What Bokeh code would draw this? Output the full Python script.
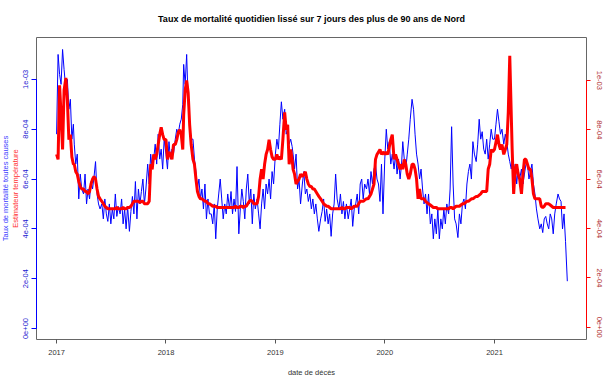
import pandas as pd
from bokeh.plotting import figure
from bokeh.models import Range1d, LinearAxis, FixedTicker, DatetimeTickFormatter, Title
from bokeh.embed import file_html
from bokeh.resources import INLINE

# ---------------- data (values in units of 1e-4) ----------------
# six readings per month (days 1, 6, 11, 16, 21, 26), Jan 2017 .. Aug 2021
taux_2017 = [7.8, 11.0, 10.2, 9.8, 11.2, 10.4,  9.6, 10.0, 8.8, 9.2, 7.6, 8.2,
             7.4, 6.6, 7.0, 5.2, 6.2, 5.6,  5.4, 6.2, 5.0, 5.6, 5.2, 5.9,
             5.6, 6.1, 6.7, 5.4, 5.0, 4.8,  5.0, 4.4, 5.2, 4.6, 4.3, 5.0,
             4.2, 4.8, 4.4, 5.4, 4.5, 4.9,  4.6, 5.2, 4.2, 4.8, 4.0, 4.9,
             3.9, 4.7, 5.3, 4.6, 5.9, 4.4,  5.6, 5.0, 5.5, 6.0, 5.0, 5.6,
             6.6, 5.8, 7.0, 6.4, 6.8, 7.4,  6.6, 7.8, 6.8, 7.2, 6.4, 7.6]
taux_2018 = [7.0, 6.4, 7.5, 6.8, 7.2, 7.0,  7.6, 8.0, 7.8, 8.2, 8.4, 9.0,
             10.6, 9.8, 11.0, 9.1, 8.2, 7.6,  7.6, 6.8, 6.3, 5.6, 6.0, 5.2,
             5.6, 4.8, 5.8, 4.4, 5.2, 4.6,  4.6, 4.2, 5.0, 3.6, 4.8, 5.4,
             6.0, 5.2, 4.4, 5.0, 4.6, 5.4,  4.8, 5.5, 4.6, 5.2, 4.7, 6.5,
             3.8, 4.8, 5.6, 5.1, 4.4, 5.6,  6.2, 5.0, 5.6, 4.2, 5.4, 4.8,
             5.2, 4.6, 4.0, 5.0, 5.6, 4.8,  5.8, 5.4, 6.0, 5.2, 6.3, 5.8]
taux_2019 = [7.0, 7.6, 7.2, 8.2, 9.1, 8.4,  8.8, 7.8, 8.0, 7.4, 7.6, 7.3,
             7.0, 6.4, 7.0, 5.6, 6.0, 5.0,  5.8, 6.3, 5.4, 5.6, 5.1, 5.4,
             4.8, 5.2, 4.6, 5.0, 4.4, 3.9,  4.4, 4.7, 5.2, 4.3, 4.8, 4.2,
             4.6, 3.7, 4.6, 5.0, 6.2, 5.2,  4.8, 5.4, 4.6, 5.1, 4.4, 5.0,
             4.4, 4.8, 5.2, 4.1, 4.8, 5.0,  5.4, 4.6, 5.8, 6.0, 5.2, 5.8,
             5.6, 6.0, 5.4, 6.3, 5.8, 6.4,  6.6, 6.0, 5.8, 5.1, 6.6, 4.6]
taux_2020 = [6.8, 8.0, 7.2, 7.5, 6.6, 7.0,  6.4, 7.0, 6.2, 6.8, 6.0, 6.6,
             7.5, 6.8, 6.4, 7.0, 7.6, 8.4,  9.2, 8.8, 7.8, 7.0, 6.6, 6.0,
             6.4, 5.6, 5.0, 5.4, 4.6, 5.4,  4.2, 4.6, 3.6, 4.4, 3.8, 4.8,
             3.6, 4.4, 4.0, 4.8, 4.2, 5.0,  4.6, 5.6, 8.1, 5.8, 4.4, 4.2,
             3.65, 4.6, 4.2, 5.0, 5.2, 4.8,  5.8, 6.3, 6.6, 6.0, 7.5, 7.0,
             6.7, 7.4, 8.4, 7.6, 7.9, 7.2,  7.0, 7.6, 6.8, 7.4, 8.0, 7.6]
taux_2021 = [7.6, 8.2, 8.8, 8.3, 7.8, 8.0,  7.4, 7.8, 7.5, 7.0, 6.7, 6.4,
             6.8, 6.0, 6.6, 5.8, 6.4, 6.0,  6.4, 5.8, 6.2, 6.6, 6.6, 6.0,
             6.3, 6.6, 5.8, 5.4, 4.8, 4.4,  4.0, 4.2, 3.85, 4.4, 4.5, 4.2,
             4.0, 4.6, 4.4, 3.8, 4.6, 5.0,  5.4, 5.2, 5.1, 4.0, 4.6, 3.5]
taux_last = 1.9  # 2021-09-01

temp_2017 = [7.0, 6.8, 9.8, 8.6, 7.2, 9.6,  10.1, 9.2, 7.6, 7.8, 6.9, 6.6,
             6.6, 6.3, 6.2, 5.9, 5.7, 5.6,  5.6, 5.5, 5.5, 5.4, 5.5, 5.8,
             6.0, 6.1, 6.0, 5.6, 5.3, 5.2,  5.1, 5.0, 4.9, 4.85, 4.8, 4.8,
             4.8, 4.8, 4.8, 4.8, 4.85, 4.8,  4.8, 4.8, 4.85, 4.8, 4.8, 4.85,
             4.85, 4.9, 5.0, 5.1, 5.1, 5.1,  5.1, 5.05, 5.1, 5.1, 5.0, 5.0,
             5.0, 5.1, 6.6, 6.4, 7.0, 6.8,  7.0, 7.4, 7.8, 8.1, 7.8, 7.6]
temp_2018 = [7.6, 6.8, 7.1, 7.0, 6.8, 7.4,  7.4, 7.6, 7.9, 8.0, 7.8, 7.2,
             8.6, 9.6, 10.0, 9.5, 8.2, 7.4,  6.8, 6.6, 6.0, 5.5, 5.3, 5.2,
             5.2, 5.15, 5.1, 5.1, 5.0, 5.0,  4.95, 4.9, 4.9, 4.9, 4.85, 4.85,
             4.85, 4.85, 4.85, 4.85, 4.85, 4.85,  4.85, 4.85, 4.85, 4.85, 4.9, 4.85,
             4.85, 4.9, 4.9, 4.85, 4.9, 4.9,  5.0, 5.1, 5.15, 5.1, 5.0, 5.0,
             5.0, 5.3, 6.0, 6.4, 6.0, 6.6,  7.0, 7.2, 7.6, 7.2, 6.9, 6.8]
temp_2019 = [6.8, 7.0, 6.8, 6.9, 6.8, 7.6,  8.7, 8.0, 8.2, 6.6, 7.2, 6.8,
             6.4, 6.2, 5.8, 5.9, 6.0, 6.2,  6.1, 6.2, 6.3, 6.0, 5.8, 5.7,
             5.7, 5.6, 5.6, 5.5, 5.4, 5.3,  5.2, 5.1, 5.0, 4.95, 4.9, 4.9,
             4.85, 4.8, 4.8, 4.8, 4.8, 4.8,  4.8, 4.8, 4.85, 4.8, 4.8, 4.85,
             4.85, 4.85, 4.8, 4.85, 4.9, 4.9,  4.9, 5.0, 5.1, 5.1, 5.1, 5.15,
             5.2, 5.2, 5.3, 5.4, 5.6, 5.8,  6.8, 7.0, 7.1, 7.2, 7.0, 7.1]
temp_2020 = [7.0, 7.1, 7.0, 7.3, 7.6, 7.8,  6.8, 7.0, 6.8, 6.6, 6.4, 6.6,
             6.4, 6.8, 6.6, 6.2, 6.0, 6.2,  6.6, 6.6, 6.4, 6.0, 5.2, 5.6,
             5.2, 5.2, 5.2, 5.1, 5.05, 5.0,  4.95, 4.9, 4.85, 4.85, 4.85, 4.8,
             4.8, 4.8, 4.8, 4.8, 4.8, 4.8,  4.8, 4.85, 4.85, 4.8, 4.85, 4.9,
             4.9, 4.9, 4.95, 5.0, 5.0, 5.05,  5.1, 5.1, 5.15, 5.2, 5.2, 5.25,
             5.3, 5.3, 5.35, 5.4, 5.5, 5.5,  5.5, 5.5, 6.4, 6.6, 7.2, 7.1]
temp_2021 = [7.2, 7.5, 7.8, 7.4, 7.2, 7.4,  7.0, 7.2, 7.4, 8.7, 11.0, 8.6,
             7.2, 5.4, 6.4, 6.6, 6.2, 6.0,  5.4, 6.2, 6.8, 6.8, 6.6, 6.4,
             6.4, 6.0, 5.4, 5.2, 5.2, 5.2,  5.2, 4.9, 4.85, 4.9, 5.0, 5.0,
             5.0, 4.95, 4.9, 4.85, 4.85, 4.85,  4.85, 4.85, 4.85, 4.85, 4.85, 4.85]

year_ticks = ["2017-01-01", "2018-01-01", "2019-01-01", "2020-01-01", "2021-01-01"]
y_ticks = [0, 2, 4, 6, 8, 10]
y_tick_labels = ["0e+00", "2e-04", "4e-04", "6e-04", "8e-04", "1e-03"]

# ---------------- build series ----------------
months = pd.date_range("2017-01-01", "2021-08-01", freq="MS")
day_offsets = [0, 5, 10, 15, 20, 25]
grid_dates = [m + pd.Timedelta(days=o) for m in months for o in day_offsets]

taux = taux_2017 + taux_2018 + taux_2019 + taux_2020 + taux_2021 + [taux_last]
taux_dates = grid_dates + [pd.Timestamp("2021-09-01")]
temp = temp_2017 + temp_2018 + temp_2019 + temp_2020 + temp_2021
temp_dates = grid_dates
assert len(taux) == len(taux_dates) and len(temp) == len(temp_dates)

FONT = "Liberation Sans"

p = figure(width=605, height=384, x_axis_type="datetime",
           output_backend="svg", toolbar_location=None,
           x_range=Range1d(pd.Timestamp("2016-10-26"), pd.Timestamp("2021-11-04")),
           y_range=Range1d(-0.44, 11.68),
           min_border_left=36, min_border_right=19, min_border_top=36, min_border_bottom=45)
p.extra_y_ranges = {"temp": Range1d(-0.497, 11.736)}
p.grid.visible = False
p.background_fill_color = "white"
p.border_fill_color = "white"
p.outline_line_color = "#666666"
p.outline_line_width = 1

# title
p.title.text = "Taux de mortalité quotidien lissé sur 7 jours des plus de 90 ans de Nord"
p.title.align = "center"
p.title.vertical_align = "middle"
p.title.standoff = 25
p.title.text_font = FONT
p.title.text_font_style = "bold"
p.title.text_font_size = "9px"
p.title.text_color = "black"

# x axis
xa = p.xaxis[0]
xa.ticker = FixedTicker(ticks=[pd.Timestamp(t).value // 10**6 for t in year_ticks])
fmt = "%Y"
xa.formatter = DatetimeTickFormatter(microseconds=fmt, milliseconds=fmt, seconds=fmt, minsec=fmt,
                                     minutes=fmt, hourmin=fmt, hours=fmt, days=fmt,
                                     months=fmt, years=fmt)
xa.axis_line_color = None
xa.major_tick_line_color = "#555555"
xa.major_tick_out = 4
xa.major_tick_in = 0
xa.minor_tick_line_color = None
xa.major_label_text_font = FONT
xa.major_label_text_font_size = "7.5px"
xa.major_label_text_color = "#333333"
xa.major_label_standoff = 6
xa.axis_label = "date de décès"
xa.axis_label_text_font = FONT
xa.axis_label_text_font_size = "7.5px"
xa.axis_label_text_font_style = "normal"
xa.axis_label_text_color = "#333333"
xa.axis_label_standoff = 10

# left axis (blue)
ya = p.yaxis[0]
ya.ticker = FixedTicker(ticks=y_ticks)
ya.major_label_overrides = dict(zip(y_ticks, y_tick_labels))
ya.bounds = (0, 10)
ya.axis_line_color = "blue"
ya.major_tick_line_color = "blue"
ya.major_tick_out = 5
ya.major_tick_in = 0
ya.minor_tick_line_color = None
ya.major_label_orientation = "vertical"
ya.major_label_text_font = FONT
ya.major_label_text_font_size = "7.5px"
ya.major_label_text_color = "#2020d0"
ya.major_label_standoff = 3

# left titles (red inner, blue outer)
p.add_layout(Title(text="Estimateur température", align="center", vertical_align="middle",
                   standoff=0, text_font=FONT, text_font_size="7.5px",
                   text_font_style="normal", text_color="#ff3030"), "left")
p.add_layout(Title(text="Taux de mortalité toutes causes", align="center", vertical_align="middle",
                   standoff=-2, text_font=FONT, text_font_size="7.5px",
                   text_font_style="normal", text_color="#4040ff"), "left")

# right axis (red)
ra = LinearAxis(y_range_name="temp")
ra.ticker = FixedTicker(ticks=y_ticks)
ra.major_label_overrides = dict(zip(y_ticks, y_tick_labels))
ra.bounds = (0, 10)
ra.axis_line_color = "red"
ra.major_tick_line_color = "red"
ra.major_tick_out = 4
ra.major_tick_in = 0
ra.minor_tick_line_color = None
ra.major_label_orientation = "vertical"
ra.major_label_text_font = FONT
ra.major_label_text_font_size = "7.5px"
ra.major_label_text_color = "#b03030"
ra.major_label_standoff = 6
p.add_layout(ra, "right")

# series
p.line(taux_dates, taux, line_color="blue", line_width=1)
p.line(temp_dates, temp, line_color="red", line_width=3, y_range_name="temp")

open("out.html", "w").write(file_html(p, INLINE))
